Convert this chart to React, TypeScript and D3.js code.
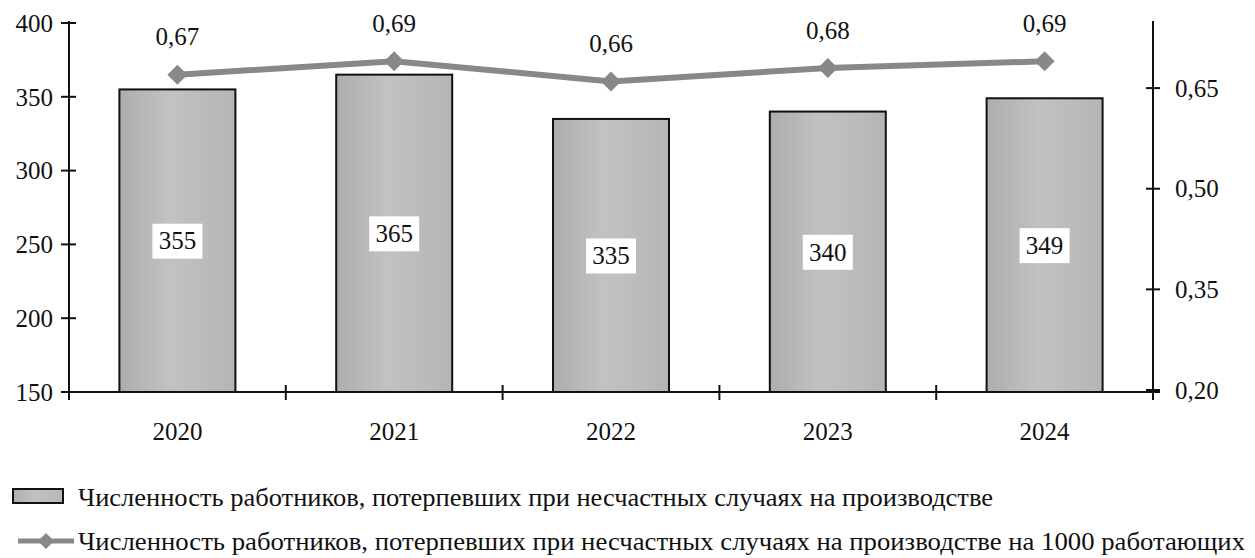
import React from "react";
import * as d3 from "d3";

const years = ["2020", "2021", "2022", "2023", "2024"];
const injured = [355, 365, 335, 340, 349];
const per1000 = [0.67, 0.69, 0.66, 0.68, 0.69];
const leftTicks = [150, 200, 250, 300, 350, 400];
const rightTicks = [0.2, 0.35, 0.5, 0.65];
const legendBar = "Численность работников, потерпевших при несчастных случаях на производстве";
const legendLine = "Численность работников, потерпевших при несчастных случаях на производстве на 1000 работающих";

const W = 1255, H = 558;
const L = 69, R = 1153, T = 23, B = 392;
const FONT = "Liberation Serif, Times New Roman, Times, serif";
const FS = 25;
const fmt = (v: number, d: number) => v.toFixed(d).replace(".", ",");
const LINE = "#888888";

export default function App() {
  const x = d3.scaleBand<string>().domain(years).range([L, R]).paddingInner(0.465).paddingOuter(0.2325);
  const yL = d3.scaleLinear().domain([150, 400]).range([B, T]);
  const yR = d3.scaleLinear().domain([0.2, 0.75]).range([390, 21]);
  const lineGen = d3.line<number>().x((_, i) => x(years[i])! + x.bandwidth() / 2).y((d) => yR(d));
  const bounds = d3.range(years.length + 1).map((i) => L + (i * (R - L)) / years.length);
  const diamond = (cx: number, cy: number, r: number) =>
    `M${cx},${cy - r}L${cx + r},${cy}L${cx},${cy + r}L${cx - r},${cy}Z`;

  return (
    <svg width={W} height={H} style={{ position: "absolute", left: 0, top: 0, background: "#fff", fontFamily: FONT }}>
      <defs>
        <linearGradient id="barGrad" x1="0" x2="1" y1="0" y2="0">
          <stop offset="0" stopColor="#adadad" />
          <stop offset="0.45" stopColor="#c2c2c2" />
          <stop offset="1" stopColor="#b5b5b5" />
        </linearGradient>
      </defs>
      <rect x={0} y={0} width={W} height={H} fill="#fff" />
      {injured.map((v, i) => {
        const bx = x(years[i])!;
        const by = yL(v);
        const cx = bx + x.bandwidth() / 2;
        const cy = (by + B) / 2;
        return (
          <g key={years[i]}>
            <rect x={bx} y={by} width={x.bandwidth()} height={B - by} fill="url(#barGrad)" stroke="#111" strokeWidth={2} />
            <rect x={cx - 25} y={cy - 17} width={50} height={35} fill="#fff" />
            <text x={cx} y={cy} dy="0.35em" textAnchor="middle" fontSize={FS} fill="#111">{v}</text>
          </g>
        );
      })}
      <line x1={L} x2={L} y1={T - 2} y2={B + 8} stroke="#111" strokeWidth={2} />
      {leftTicks.map((t) => (
        <g key={t}>
          <line x1={L - 8} x2={L + 7} y1={yL(t)} y2={yL(t)} stroke="#111" strokeWidth={2} />
          <text x={L - 16} y={yL(t)} dy="0.35em" textAnchor="end" fontSize={FS} fill="#111">{t}</text>
        </g>
      ))}
      <line x1={R} x2={R} y1={21} y2={B + 8} stroke="#111" strokeWidth={2} />
      {rightTicks.map((t) => (
        <g key={t}>
          <line x1={R - 7} x2={R + 7} y1={yR(t)} y2={yR(t)} stroke="#111" strokeWidth={2} />
          <text x={R + 22} y={yR(t)} dy="0.35em" textAnchor="start" fontSize={FS} fill="#111">{fmt(t, 2)}</text>
        </g>
      ))}
      <line x1={L - 7} x2={R + 7} y1={B} y2={B} stroke="#111" strokeWidth={2} />
      {bounds.slice(1, -1).map((bx, i) => (
        <line key={i} x1={bx} x2={bx} y1={B - 7} y2={B + 8} stroke="#111" strokeWidth={2} />
      ))}
      {years.map((y) => (
        <text key={y} x={x(y)! + x.bandwidth() / 2} y={431} dy="0.35em" textAnchor="middle" fontSize={FS} fill="#111">{y}</text>
      ))}
      <path d={lineGen(per1000)!} fill="none" stroke={LINE} strokeWidth={6} />
      {per1000.map((v, i) => {
        const cx = x(years[i])! + x.bandwidth() / 2;
        const cy = yR(v);
        return (
          <g key={i}>
            <path d={diamond(cx, cy, 10)} fill={LINE} />
            <text x={cx} y={cy - 38} dy="0.35em" textAnchor="middle" fontSize={FS} fill="#111">{fmt(v, 2)}</text>
          </g>
        );
      })}
      <rect x={13} y={489} width={50} height={14} fill="url(#barGrad)" stroke="#111" strokeWidth={2} />
      <text x={78} y={497} dy="0.35em" fontSize={25} fill="#111" textLength={915} lengthAdjust="spacingAndGlyphs">{legendBar}</text>
      <line x1={18} x2={74} y1={541} y2={541} stroke={LINE} strokeWidth={5} />
      <path d={diamond(46, 541, 8)} fill={LINE} />
      <text x={78} y={541} dy="0.35em" fontSize={25} fill="#111" textLength={1167} lengthAdjust="spacingAndGlyphs">{legendLine}</text>
    </svg>
  );
}
